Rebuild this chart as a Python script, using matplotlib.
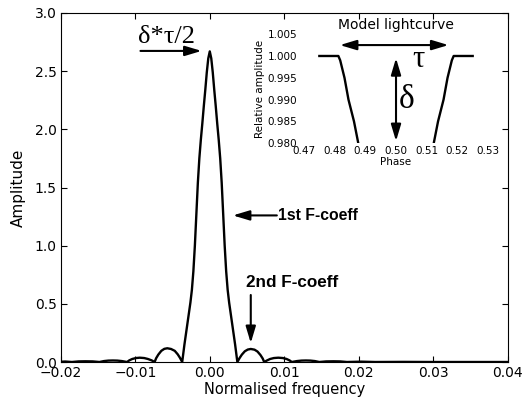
import matplotlib
matplotlib.use('Agg')
import matplotlib.pyplot as plt

# Fourier amplitude of the model transit
freq = [-0.0200, -0.0194, -0.0185, -0.0176, -0.0167, -0.0157, -0.0148,
        -0.0142, -0.0136, -0.0130, -0.0124, -0.0118, -0.0111,
        -0.0108, -0.0104, -0.0099, -0.0094, -0.0088, -0.0083, -0.0078, -0.0074,
        -0.0072, -0.0069, -0.0065, -0.0061, -0.0057, -0.0052, -0.0047, -0.0043, -0.0040, -0.0037,
        -0.0036, -0.0034, -0.0032, -0.0030, -0.0028, -0.0026, -0.0024, -0.0022, -0.0020,
        -0.0018, -0.0016, -0.0014, -0.0012, -0.0010, -0.0008, -0.0006, -0.0004, -0.0002,
        0.0000,
        0.0002, 0.0004, 0.0006, 0.0008, 0.0010, 0.0012, 0.0014, 0.0016, 0.0018,
        0.0020, 0.0022, 0.0024, 0.0026, 0.0028, 0.0030, 0.0032, 0.0034, 0.0036,
        0.0037, 0.0040, 0.0043, 0.0047, 0.0051, 0.0055, 0.0060, 0.0064, 0.0068, 0.0071, 0.0073,
        0.0077, 0.0081, 0.0086, 0.0092, 0.0098, 0.0103, 0.0107, 0.0110,
        0.0117, 0.0123, 0.0129, 0.0135, 0.0141, 0.0147,
        0.0156, 0.0166, 0.0175, 0.0184, 0.0203, 0.0222, 0.0260, 0.0300, 0.0400]
amp = [0.002, 0.004, 0.000, 0.005, 0.006, 0.005, 0.000,
       0.008, 0.012, 0.013, 0.012, 0.008, 0.000,
       0.014, 0.026, 0.034, 0.037, 0.034, 0.026, 0.014, 0.000,
       0.032, 0.064, 0.096, 0.113, 0.118, 0.112, 0.096, 0.066, 0.036, 0.000,
       0.05, 0.15, 0.24, 0.33, 0.42, 0.51, 0.62, 0.78, 1.00,
       1.27, 1.54, 1.75, 1.91, 2.05, 2.20, 2.34, 2.49, 2.61,
       2.67,
       2.61, 2.49, 2.34, 2.20, 2.05, 1.91, 1.75, 1.54, 1.27,
       1.00, 0.78, 0.62, 0.51, 0.42, 0.33, 0.24, 0.15, 0.05,
       0.000, 0.034, 0.063, 0.092, 0.107, 0.112, 0.106, 0.090, 0.060, 0.030, 0.000,
       0.014, 0.026, 0.034, 0.037, 0.034, 0.026, 0.014, 0.000,
       0.008, 0.012, 0.013, 0.012, 0.008, 0.000,
       0.005, 0.006, 0.005, 0.000, 0.003, 0.000, 0.001, 0.000, 0.000]

# model lightcurve for the inset
phase = [0.475, 0.4812, 0.4818, 0.4825, 0.4832, 0.4845, 0.4863, 0.4877, 0.4895, 0.491,
         0.509, 0.5105, 0.5123, 0.5137, 0.5155, 0.5168, 0.5175, 0.5182, 0.5188, 0.525]
rel_amp = [1.0, 1.0, 0.999, 0.997, 0.995, 0.990, 0.985, 0.980, 0.975, 0.972,
           0.972, 0.975, 0.980, 0.985, 0.990, 0.995, 0.997, 0.999, 1.0, 1.0]

xticks = [-0.02, -0.01, 0.00, 0.01, 0.02, 0.03, 0.04]
yticks = [0.0, 0.5, 1.0, 1.5, 2.0, 2.5, 3.0]
in_xticks = [0.47, 0.48, 0.49, 0.50, 0.51, 0.52, 0.53]
in_yticks = [0.980, 0.985, 0.990, 0.995, 1.000, 1.005]

fig = plt.figure(figsize=(5.22, 4.0), dpi=100)
ax = fig.add_axes([0.1163, 0.095, 0.8567, 0.8725])
ax.plot(freq, amp, color='k', lw=1.7)
ax.set_xlim(-0.02, 0.04)
ax.set_ylim(0, 3.0)
ax.set_xticks(xticks)
ax.set_xticklabels(['%.2f' % t if t >= 0 else '\u2212%.2f' % -t for t in xticks])
ax.set_yticks(yticks)
ax.set_yticklabels(['%.1f' % t for t in yticks])
ax.tick_params(direction='in', top=True, right=True, length=4, labelsize=10, pad=3)
ax.set_xlabel('Normalised frequency', fontsize=10.5, labelpad=1)
ax.set_ylabel('Amplitude', fontsize=11, labelpad=6.5)

arr = dict(arrowstyle='-|>,head_length=1.0,head_width=0.3', mutation_scale=10,
           color='k', lw=1.5, shrinkA=0, shrinkB=0)
ax.annotate('', xy=(-0.0011, 2.674), xytext=(-0.0093, 2.674), arrowprops=arr)
ax.text(-0.0058, 2.695, '\u03b4*\u03c4/2', fontsize=19, family='Liberation Serif',
        ha='center', va='bottom')

ax.annotate('', xy=(0.0031, 1.26), xytext=(0.0090, 1.26), arrowprops=arr)
ax.text(0.0091, 1.26, '1st F-coeff', fontsize=11.3, fontweight='bold',
        family='Liberation Sans', ha='left', va='center')

ax.annotate('', xy=(0.0055, 0.163), xytext=(0.0055, 0.576), arrowprops=arr)
ax.text(0.0049, 0.68, '2nd F-coeff', fontsize=12.3, fontweight='bold',
        family='Liberation Sans', ha='left', va='center')

# inset
ins = fig.add_axes([0.5824, 0.6418, 0.3525, 0.2728])
ins.plot(phase, rel_amp, color='k', lw=1.7)
ins.set_xlim(0.47, 0.53)
ins.set_ylim(0.980, 1.005)
ins.set_xticks(in_xticks)
ins.set_xticklabels(['%.2f' % t for t in in_xticks])
ins.set_yticks(in_yticks)
ins.set_yticklabels(['%.3f' % t for t in in_yticks])
ins.set_frame_on(False)
ins.tick_params(axis='x', length=0, labelsize=7.5, pad=2)
ins.tick_params(axis='y', length=0, labelsize=7.5, pad=5)
ins.set_xlabel('Phase', fontsize=7.5, labelpad=1)
ins.set_ylabel('Relative amplitude', fontsize=7.5, labelpad=2)
ins.set_title('Model lightcurve', fontsize=10, pad=4)

arr2 = dict(arrowstyle='<|-|>,head_length=1.0,head_width=0.3', mutation_scale=10,
            color='k', lw=1.5, shrinkA=0, shrinkB=0)
ins.annotate('', xy=(0.5171, 1.0025), xytext=(0.4817, 1.0025), arrowprops=arr2)
ins.annotate('', xy=(0.500, 0.9805), xytext=(0.500, 0.9995), arrowprops=arr2)
ins.text(0.5073, 0.9991, '\u03c4', fontsize=22, family='Liberation Serif',
         ha='center', va='center')
ins.text(0.5035, 0.990, '\u03b4', fontsize=24, family='Liberation Serif',
         ha='center', va='center')

fig.savefig('out.png', dpi=100)
